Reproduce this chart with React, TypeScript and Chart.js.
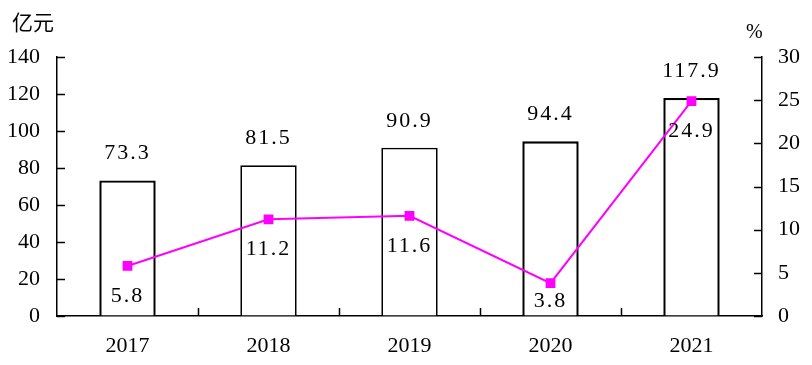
import React, { useEffect, useRef } from "react";
import { Chart, registerables } from "chart.js";

Chart.register(...registerables);

const categories = ["2017", "2018", "2019", "2020", "2021"];
const revenue = [73.3, 81.5, 90.9, 94.4, 117.9];
const growth = [5.8, 11.2, 11.6, 3.8, 24.9];
const barBorderWidths = [2.4, 1.7, 1.7, 2.4, 2.4];

const SERIF = "'Liberation Serif', 'DejaVu Serif', serif";
const CJK = "'Noto Sans CJK SC', sans-serif";
const MAGENTA = "#FF00FF";

const overlayPlugin = {
  id: "overlay",
  afterDraw(chart: any) {
    const { ctx, chartArea } = chart;
    const x = chart.scales.x;
    const y = chart.scales.y;
    const y1 = chart.scales.y1;
    ctx.save();
    ctx.strokeStyle = "#000";
    ctx.lineWidth = 1.5;
    // inner tick marks
    y.ticks.forEach((t: any) => {
      const py = Math.round(y.getPixelForValue(t.value)) + 0.5;
      ctx.beginPath();
      ctx.moveTo(chartArea.left, py);
      ctx.lineTo(chartArea.left + 8, py);
      ctx.stroke();
    });
    y1.ticks.forEach((t: any) => {
      const py = Math.round(y1.getPixelForValue(t.value)) + 0.5;
      ctx.beginPath();
      ctx.moveTo(chartArea.right - 8, py);
      ctx.lineTo(chartArea.right, py);
      ctx.stroke();
    });
    for (let i = 1; i < categories.length; i++) {
      const px = Math.round((x.getPixelForValue(i - 1) + x.getPixelForValue(i)) / 2) + 0.5;
      ctx.beginPath();
      ctx.moveTo(px, chartArea.bottom);
      ctx.lineTo(px, chartArea.bottom - 8);
      ctx.stroke();
    }
    // data labels
    ctx.fillStyle = "#000";
    ctx.font = `22px ${SERIF}`;
    ctx.textAlign = "center";
    ctx.textBaseline = "middle";
    try { (ctx as any).letterSpacing = "2px"; } catch (e) {}
    const barMeta = chart.getDatasetMeta(1);
    barMeta.data.forEach((el: any, i: number) => {
      ctx.fillText(revenue[i].toFixed(1), el.x, el.y - 27);
    });
    const lineMeta = chart.getDatasetMeta(0);
    lineMeta.data.forEach((el: any, i: number) => {
      const ly = Math.min(el.y + 30, chartArea.bottom - 15);
      ctx.fillText(growth[i].toFixed(1), el.x, ly);
    });
    try { (ctx as any).letterSpacing = "0px"; } catch (e) {}
    // unit labels
    ctx.textAlign = "left";
    ctx.font = `21px ${CJK}`;
    ctx.fillText("亿元", 12, 22);
    ctx.font = `20px ${SERIF}`;
    ctx.fillText("%", 746, 33);
    ctx.restore();
  },
};

export default function App() {
  const ref = useRef<HTMLCanvasElement | null>(null);
  useEffect(() => {
    document.body.style.margin = "0";
    const canvas = ref.current;
    if (!canvas) return;
    const tickFont = { family: SERIF, size: 22 };
    const chart = new Chart(canvas, {
      type: "bar",
      data: {
        labels: categories,
        datasets: [
          {
            type: "line" as const,
            label: "增长率",
            data: growth,
            yAxisID: "y1",
            borderColor: MAGENTA,
            backgroundColor: MAGENTA,
            borderWidth: 2,
            pointStyle: "rect",
            pointRadius: 5.5,
            pointHoverRadius: 5.5,
            pointBackgroundColor: MAGENTA,
            pointBorderColor: MAGENTA,
            tension: 0,
          },
          {
            type: "bar" as const,
            label: "收入",
            data: revenue,
            yAxisID: "y",
            backgroundColor: "#FFFFFF",
            borderColor: "#000000",
            borderWidth: barBorderWidths,
            borderSkipped: "bottom",
            barPercentage: 0.8,
            categoryPercentage: 0.5,
          },
        ],
      },
      options: {
        animation: false,
        responsive: false,
        devicePixelRatio: 1,
        layout: { padding: { top: 57, left: 0, right: 0, bottom: 0 } },
        plugins: { legend: { display: false }, tooltip: { enabled: false } },
        scales: {
          x: {
            offset: true,
            grid: { drawOnChartArea: false, drawTicks: false },
            border: { color: "#000", width: 1.5 },
            ticks: { font: tickFont, color: "#000", padding: 17 },
            afterFit: (s: any) => { s.height = 49; },
          },
          y: {
            position: "left",
            min: 0,
            max: 140,
            ticks: { stepSize: 20, font: tickFont, color: "#000", padding: 17 },
            grid: { drawOnChartArea: false, drawTicks: false },
            border: { color: "#000", width: 1.5 },
            afterFit: (s: any) => { s.width = 57; },
          },
          y1: {
            position: "right",
            min: 0,
            max: 30,
            ticks: { stepSize: 5, font: tickFont, color: "#000", padding: 16 },
            grid: { drawOnChartArea: false, drawTicks: false },
            border: { color: "#000", width: 1.5 },
            afterFit: (s: any) => { s.width = 50; },
          },
        },
      } as any,
      plugins: [overlayPlugin],
    });
    return () => chart.destroy();
  }, []);
  return (
    <div style={{ width: 812, height: 365, background: "#fff" }}>
      <canvas ref={ref} width={812} height={365} style={{ display: "block", width: 812, height: 365 }} />
    </div>
  );
}
